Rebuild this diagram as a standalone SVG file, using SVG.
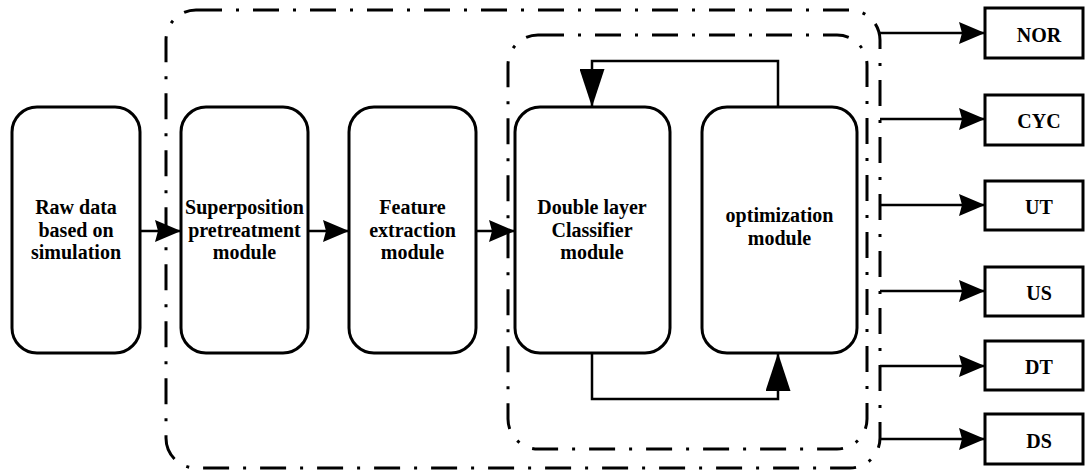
<svg xmlns="http://www.w3.org/2000/svg" width="1085" height="476" viewBox="0 0 1085 476">
  <style>
    .bg { fill: #ffffff; }
    .module { fill: #ffffff; stroke: #000000; stroke-width: 3; }
    .out { fill: #ffffff; stroke: #000000; stroke-width: 3; }
    .frame { fill: none; stroke: #000000; stroke-width: 3; stroke-dasharray: 26 14 3 14; }
    .link { fill: none; stroke: #000000; stroke-width: 2.5; }
    text { font-family: "Liberation Serif", "Times New Roman", serif; font-weight: bold; font-size: 20px; fill: #000000; text-anchor: middle; }
  </style>
  <defs>
    <marker id="arrowH" viewBox="0 0 26 22" refX="26" refY="11" markerWidth="26" markerHeight="22" markerUnits="userSpaceOnUse" orient="auto">
      <path d="M0,0 L26,11 L0,22 L3,11 z" fill="#000000"/>
    </marker>
    <marker id="arrowV" viewBox="0 0 38 25" refX="38" refY="12.5" markerWidth="38" markerHeight="25" markerUnits="userSpaceOnUse" orient="auto">
      <path d="M0,0 L38,12.5 L0,25 z" fill="#000000"/>
    </marker>
  </defs>

  <rect class="bg" x="0" y="0" width="1085" height="476"/>

  <!-- processing frames (dash-dot) -->
  <g id="frames">
    <rect class="frame" x="166" y="10" width="714" height="458" rx="30" ry="30"/>
    <rect class="frame" x="508" y="35" width="359" height="414" rx="30" ry="30"/>
  </g>

  <!-- modules -->
  <g id="raw-data">
    <rect class="module" x="12" y="107" width="128" height="246" rx="25" ry="25"/>
    <text x="76" y="214">Raw data</text>
    <text x="76" y="236.5">based on</text>
    <text x="76" y="259">simulation</text>
  </g>
  <g id="superposition">
    <rect class="module" x="181" y="107" width="127" height="246" rx="25" ry="25"/>
    <text x="244.5" y="214">Superposition</text>
    <text x="244.5" y="236.5">pretreatment</text>
    <text x="244.5" y="259">module</text>
  </g>
  <g id="feature">
    <rect class="module" x="349" y="107" width="127" height="246" rx="25" ry="25"/>
    <text x="412.5" y="214">Feature</text>
    <text x="412.5" y="236.5">extraction</text>
    <text x="412.5" y="259">module</text>
  </g>
  <g id="classifier">
    <rect class="module" x="515" y="107" width="155" height="246" rx="25" ry="25"/>
    <text x="592" y="214">Double layer</text>
    <text x="592" y="236.5">Classifier</text>
    <text x="592" y="259">module</text>
  </g>
  <g id="optimization">
    <rect class="module" x="702" y="107" width="155" height="246" rx="25" ry="25"/>
    <text x="779.5" y="222">optimization</text>
    <text x="779.5" y="245">module</text>
  </g>

  <!-- fault classes -->
  <g id="nor">
    <rect class="out" x="985" y="8" width="98" height="50"/>
    <text x="1039" y="42">NOR</text>
  </g>
  <g id="cyc">
    <rect class="out" x="985" y="95" width="98" height="50"/>
    <text x="1039" y="128">CYC</text>
  </g>
  <g id="ut">
    <rect class="out" x="985" y="181" width="98" height="49"/>
    <text x="1039" y="214">UT</text>
  </g>
  <g id="us">
    <rect class="out" x="985" y="267" width="98" height="49"/>
    <text x="1039" y="300">US</text>
  </g>
  <g id="dt">
    <rect class="out" x="985" y="341" width="98" height="49"/>
    <text x="1039" y="374">DT</text>
  </g>
  <g id="ds">
    <rect class="out" x="985" y="414" width="98" height="50"/>
    <text x="1039" y="448">DS</text>
  </g>

  <!-- connectors -->
  <g id="connectors">
    <path class="link" d="M140,231 L181,231" marker-end="url(#arrowH)"/>
    <path class="link" d="M308,231 L349,231" marker-end="url(#arrowH)"/>
    <path class="link" d="M476,231 L515,231" marker-end="url(#arrowH)"/>

    <path class="link" d="M778,107 L778,61 L592,61 L592,107" marker-end="url(#arrowV)"/>
    <path class="link" d="M592,353 L592,399 L778,399 L778,353" marker-end="url(#arrowV)"/>

    <path class="link" d="M880,33 L985,33" marker-end="url(#arrowH)"/>
    <path class="link" d="M880,119 L985,119" marker-end="url(#arrowH)"/>
    <path class="link" d="M880,205 L985,205" marker-end="url(#arrowH)"/>
    <path class="link" d="M880,291 L985,291" marker-end="url(#arrowH)"/>
    <path class="link" d="M880,366 L985,366" marker-end="url(#arrowH)"/>
    <path class="link" d="M880,439 L985,439" marker-end="url(#arrowH)"/>
  </g>
</svg>
